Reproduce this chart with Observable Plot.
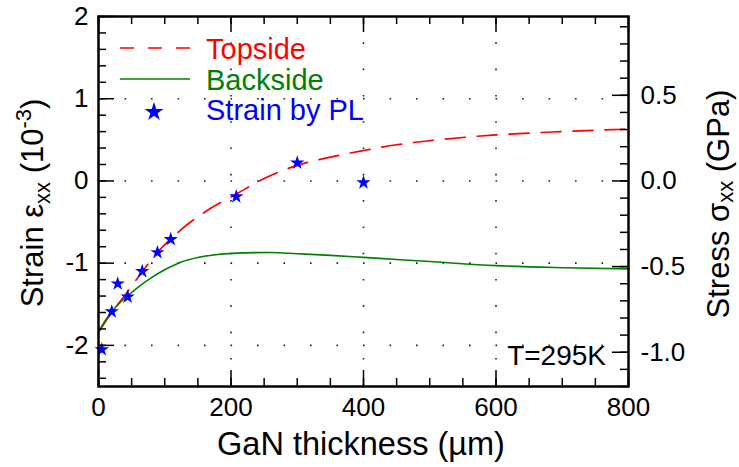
<!DOCTYPE html>
<html><head><meta charset="utf-8">
<script src="https://cdn.jsdelivr.net/npm/d3@7"></script>
<script src="https://cdn.jsdelivr.net/npm/@observablehq/plot@0.6"></script>
<style>body{margin:0;background:#fff} #chart{width:739px;height:467px}</style>
</head><body><div id="chart"></div>
<script>
// ---- data ----
const topsideX = [0, 20, 40, 60, 90, 125, 160, 210, 250, 300, 350, 400, 450, 500, 600, 700, 800];
const topsideY = [-1.84, -1.60, -1.39, -1.17, -0.86, -0.59, -0.38, -0.15, 0.03, 0.19, 0.29, 0.37, 0.44, 0.49, 0.56, 0.60, 0.63];
const backsideX = [0, 10, 20, 30, 45, 60, 80, 100, 125, 150, 180, 220, 260, 300, 350, 400, 450, 500, 600, 700, 800];
const backsideY = [-1.84, -1.70, -1.59, -1.50, -1.39, -1.29, -1.175, -1.08, -0.985, -0.93, -0.895, -0.875, -0.87, -0.885, -0.905, -0.93, -0.955, -0.98, -1.03, -1.055, -1.07];
const plX = [5, 20, 29, 44, 66, 89, 109, 208, 300, 400];
const plY = [-2.05, -1.59, -1.25, -1.41, -1.10, -0.87, -0.71, -0.19, 0.22, -0.02];
const xTickLabels = [0, 200, 400, 600, 800];
const xMinorTicks = [0,50,100,150,200,250,300,350,400,450,500,550,600,650,700,750,800];
const yTickLabels = [-2, -1, 0, 1, 2];
const yMinorTicks = [-2.4,-2.2,-2,-1.8,-1.6,-1.4,-1.2,-1,-0.8,-0.6,-0.4,-0.2,0,0.2,0.4,0.6,0.8,1,1.2,1.4,1.6,1.8,2];
const stressTickLabels = [0.5, 0.0, -0.5, -1.0];
const stressMinorTicks = [-1.2,-1.1,-1.0,-0.9,-0.8,-0.7,-0.6,-0.5,-0.4,-0.3,-0.2,-0.1,0,0.1,0.2,0.3,0.4,0.5,0.6,0.7,0.8,0.9];
const gridX = [200, 400, 600];
const gridY = [-2, -1, 0, 1];
const gpaPerStrain = 0.48; // stress (GPa) per strain unit (1e-3)
const seriesNames = ["Topside", "Backside", "Strain by PL"];
const seriesColors = ["#ff0000", "#008000", "#0000ff"];

const topside = topsideX.map((x, i) => ({x, y: topsideY[i]}));
const backside = backsideX.map((x, i) => ({x, y: backsideY[i]}));
const pl = plX.map((x, i) => ({x, y: plY[i]}));

const W = 739, H = 467, mL = 98, mR = 111, mT = 16, mB = 81;
const pw = W - mL - mR, ph = H - mT - mB;
const FONT = "'Liberation Sans', Arial, Helvetica, sans-serif";
const toStrain = s => s / gpaPerStrain;

const plot = Plot.plot({
  width: W, height: H,
  marginLeft: mL, marginRight: mR, marginTop: mT, marginBottom: mB,
  x: {domain: [0, 800], axis: null},
  y: {domain: [-2.5, 2], axis: null},
  style: {fontFamily: FONT, background: "white", color: "black"},
  marks: [
    Plot.ruleY(gridY, {y: d => d, stroke: "#222", strokeWidth: 1.6, strokeDasharray: "1.6,24.9"}),
    Plot.ruleX(gridX, {x: d => d, stroke: "#222", strokeWidth: 1.6, strokeDasharray: "1.6,24.7"}),
    Plot.line(topside, {x: "x", y: "y", stroke: seriesColors[0], strokeWidth: 1.7, strokeDasharray: "20,12", curve: "monotone-x"}),
    Plot.line(backside, {x: "x", y: "y", stroke: seriesColors[1], strokeWidth: 1.6, curve: "monotone-x"}),
    Plot.dot(pl, {x: "x", y: "y", symbol: "star", fill: seriesColors[2], stroke: "none", r: 4.5}),
    // left ticks (inward)
    Plot.tickY(yMinorTicks, {y: d => d, insetRight: pw - 8, stroke: "black", strokeWidth: 1.5}),
    Plot.tickY(yTickLabels, {y: d => d, insetRight: pw - 16, stroke: "black", strokeWidth: 1.5}),
    // right ticks (stress)
    Plot.tickY(stressMinorTicks.map(toStrain), {y: d => d, insetLeft: pw - 8, stroke: "black", strokeWidth: 1.5}),
    Plot.tickY(stressTickLabels.map(toStrain), {y: d => d, insetLeft: pw - 16, stroke: "black", strokeWidth: 1.5}),
    // bottom ticks
    Plot.tickX(xMinorTicks, {x: d => d, insetTop: ph - 8, stroke: "black", strokeWidth: 1.5}),
    Plot.tickX(xTickLabels, {x: d => d, insetTop: ph - 16, stroke: "black", strokeWidth: 1.5}),
    // top ticks
    Plot.tickX(xMinorTicks, {x: d => d, insetBottom: ph - 8, stroke: "black", strokeWidth: 1.5}),
    Plot.tickX(xTickLabels, {x: d => d, insetBottom: ph - 16, stroke: "black", strokeWidth: 1.5}),
    // tick labels
    Plot.axisX({ticks: xTickLabels, anchor: "bottom", tickSize: 0, tickPadding: 11, fontSize: 26, label: null, tickFormat: d => String(d)}),
    Plot.axisY({ticks: yTickLabels, anchor: "left", tickSize: 0, tickPadding: 10, fontSize: 26, label: null, tickFormat: d => String(d)}),
    Plot.axisY({ticks: stressTickLabels.map(toStrain), anchor: "right", tickSize: 0, tickPadding: 12, fontSize: 26, label: null,
      tickFormat: d => (d * gpaPerStrain).toFixed(1)}),
    Plot.frame({stroke: "black", strokeWidth: 2.5})
  ]
});
document.getElementById("chart").appendChild(plot);

// ---- annotations: axis titles, legend, temperature ----
const svg = d3.select(plot);
const g = svg.append("g").attr("font-family", FONT).attr("fill", "black").attr("text-anchor", "start");

// x title
g.append("text").attr("x", 361).attr("y", 455).attr("text-anchor", "middle").attr("font-size", 32.5)
  .text("GaN thickness (\u00b5m)");

// left title
const lt = g.append("text").attr("transform", "translate(43,203) rotate(-90)").attr("text-anchor", "middle").attr("font-size", 31);
lt.append("tspan").text("Strain \u03b5");
lt.append("tspan").attr("font-size", 22).attr("dy", 7).text("xx");
lt.append("tspan").attr("dy", -7).text(" (10");
lt.append("tspan").attr("font-size", 22).attr("dy", -12).text("-3");
lt.append("tspan").attr("dy", 12).text(")");

// right title
const rt = g.append("text").attr("transform", "translate(729,204) rotate(-90)").attr("text-anchor", "middle").attr("font-size", 31);
rt.append("tspan").text("Stress \u03c3");
rt.append("tspan").attr("font-size", 22).attr("dy", 4).text("xx");
rt.append("tspan").attr("dy", -4).text(" (GPa)");

// temperature
g.append("text").attr("x", 606).attr("y", 365).attr("text-anchor", "end").attr("font-size", 28).text("T=295K");

// legend
const lg = g.append("g");
lg.append("line").attr("x1", 120).attr("x2", 190).attr("y1", 48).attr("y2", 48)
  .attr("stroke", seriesColors[0]).attr("stroke-width", 1.7).attr("stroke-dasharray", "14,14");
lg.append("line").attr("x1", 120).attr("x2", 190).attr("y1", 79).attr("y2", 79)
  .attr("stroke", seriesColors[1]).attr("stroke-width", 1.6);
lg.append("path").attr("transform", "translate(154,112)").attr("d", d3.symbol(d3.symbolStar, 110)()).attr("fill", seriesColors[2]);
const legendBase = [59, 90, 120];
seriesNames.forEach((name, i) => {
  lg.append("text").attr("x", 206).attr("y", legendBase[i]).attr("text-anchor", "start")
    .attr("font-size", 29).attr("fill", seriesColors[i]).text(name);
});
</script>
</body></html>
